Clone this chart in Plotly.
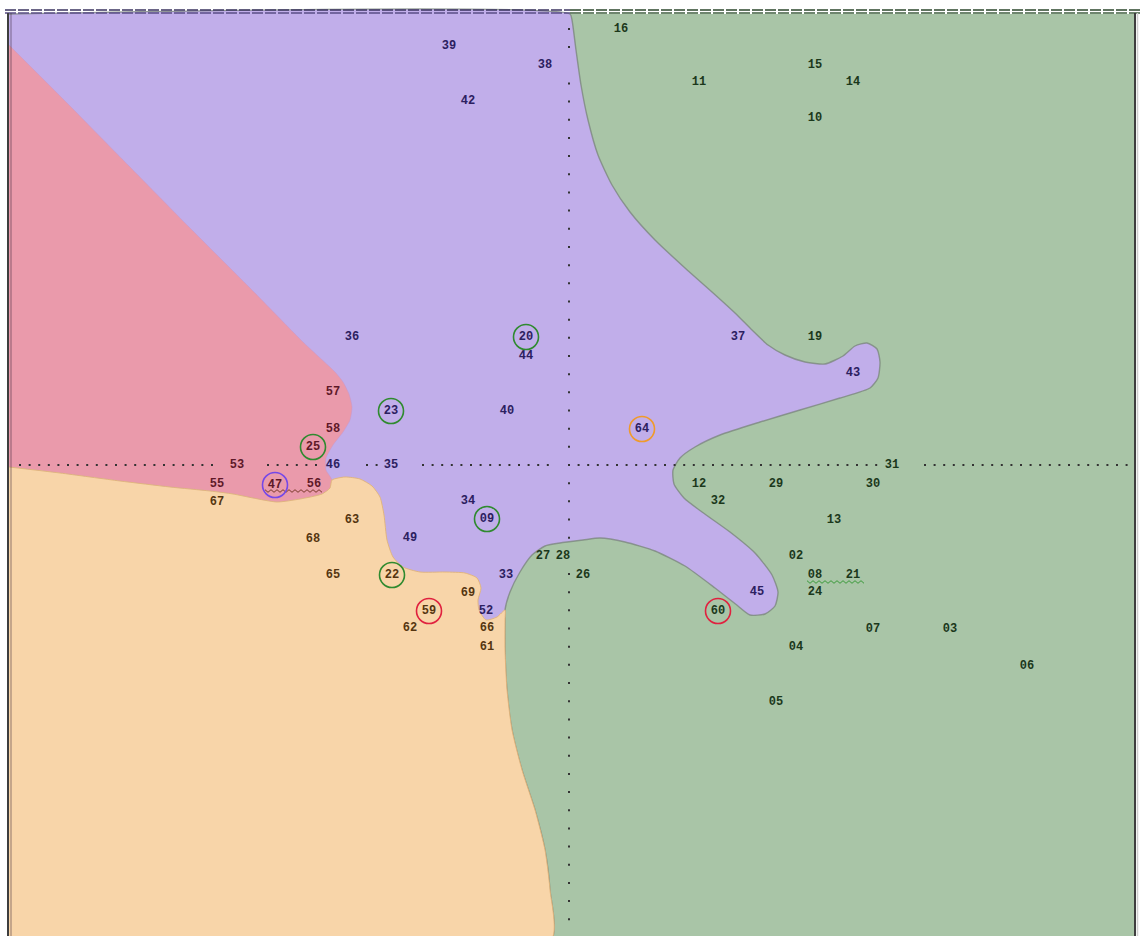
import numpy as np
import plotly.graph_objects as go

# ---------------- data (units: X = column offset from the vertical axis, Y = row offset from the horizontal axis)
purple_ids = ["39", "38", "42", "36", "20", "44", "40", "23", "46", "35", "34", "09", "49", "33", "52", "37", "43", "64", "45"]
purple_x = [-120, -24, -101, -217, -43, -43, -62, -178, -236, -178, -101, -82, -159, -63, -83, 169, 284, 73, 188]
purple_y = [419, 400, 364, 128, 128, 109, 54, 54, 0, 0, -36, -54, -73, -110, -146, 128, 92, 36, -127]

green_ids = ["16", "11", "15", "14", "10", "19", "31", "12", "29", "30", "32", "13", "02", "08", "21", "24", "60",
             "07", "03", "04", "06", "05", "27", "28", "26"]
green_x = [52, 130, 246, 284, 246, 246, 323, 130, 207, 304, 149, 265, 227, 246, 284, 246, 149,
           304, 381, 227, 458, 207, -26, -6, 14]
green_y = [436, 383, 400, 383, 347, 128, 0, -19, -19, -19, -36, -55, -91, -110, -110, -127, -146,
           -164, -164, -182, -201, -237, -91, -91, -110]

red_ids = ["57", "58", "25", "53", "55", "47", "56"]
red_x = [-236, -236, -256, -332, -352, -294, -255]
red_y = [73, 36, 18, 0, -19, -20, -19]

orange_ids = ["67", "63", "68", "65", "22", "69", "59", "62", "66", "61"]
orange_x = [-352, -217, -256, -236, -177, -101, -140, -159, -82, -82]
orange_y = [-37, -55, -74, -110, -110, -128, -146, -163, -163, -182]

# misclassified points (ring colour = true class)
ring_ids = ["20", "23", "25", "47", "09", "22", "59", "60", "64"]
ring_class = ["green", "green", "green", "purple", "green", "green", "red", "red", "orange"]

# region boundaries
green_region_x = [-560, 566, 566, -560]
green_region_y = [451, 451, -475, -475]

purple_region_x = [-560, 1, 3, 7, 12, 19, 29, 43, 61, 86, 116, 143, 166, 183, 199, 216, 236, 256, 274, 286, 298,
                   308, 311, 309, 301, 271, 231, 191, 151, 126, 111, 104, 105, 115, 133, 161, 186, 203, 209, 206,
                   196, 181, 169, 146, 116, 86, 56, 31, 14, -9, -24, -37, -49, -59, -64,
                   -64, -64, -62, -57, -47, -34, -24, -19, -18, -560]
purple_region_y = [451, 451, 445, 415, 380, 345, 310, 280, 253, 225, 197, 173, 152, 135, 120, 110, 103, 101, 109,
                   119, 122, 116, 103, 87, 77, 67, 55, 43, 30, 18, 7, -5, -19, -33, -47, -67, -88, -110, -127,
                   -141, -149, -150, -141, -123, -101, -86, -77, -73, -75, -78, -81, -90, -107, -127, -145,
                   -155, -185, -225, -265, -305, -345, -385, -425, -475, -475]

red_region_x = [-560, -500, -440, -380, -320, -265, -234, -226, -220, -217, -219, -226, -236, -243, -243, -237,
                -239, -247, -269, -292, -316, -336, -359, -399, -449, -509, -560]
red_region_y = [420, 360, 299, 238, 178, 122, 93, 83, 71, 58, 45, 33, 20, 7, -5, -15,
                -23, -29, -34, -37, -33, -29, -26, -22, -16, -8, -2]

orange_region_x = [-560, -509, -449, -399, -359, -336, -316, -292, -269, -247, -239, -237, -224, -209, -197,
                   -189, -185, -182, -176, -166, -149, -124, -104, -92, -88, -91, -90, -83, -72, -64,
                   -64, -64, -62, -57, -47, -34, -24, -19, -18, -560]
orange_region_y = [-2, -8, -16, -22, -26, -29, -33, -37, -34, -29, -23, -15, -12, -14, -21,
                   -32, -50, -75, -92, -102, -107, -107, -108, -113, -123, -135, -145, -155, -152, -145,
                   -155, -185, -225, -265, -305, -345, -385, -425, -475, -475]

# dotted axis segments (horizontal axis is broken where labels sit)
haxis_seg_start = [-549, -301, -202, -146, 0, 356]
haxis_seg_end = [-349, -251, -192, -19, 311, 563]
vaxis_skip_rows = [22, -5]

# wavy underlines (ties): start X, end X, Y, class
tie_x0 = [-304, 238]
tie_x1 = [-246, 296]
tie_y = [-26, -117]
tie_class = ["red", "green"]

# ---------------- styles
fill = {"green": "#A9C5A7", "purple": "#C1AEEA", "red": "#EA9AAB", "orange": "#F8D5A9"}
ink = {"green": "#1B381B", "purple": "#2C2060", "red": "#5E1828", "orange": "#553510"}
ring = {"green": "#2F8A2F", "purple": "#7548E8", "red": "#E0213F", "orange": "#F09A2A"}
tie_col = {"red": "#7A3A2A", "green": "#3A9A3A"}

fig = go.Figure()


def poly(xs, ys, color, line_color, lw, shape="spline"):
    line = dict(color=line_color, width=lw, shape=shape)
    if shape == "spline":
        line["smoothing"] = 0.6
    fig.add_trace(go.Scatter(x=xs, y=ys, fill="toself", fillcolor=color, mode="lines",
                             line=line, hoverinfo="skip"))


poly(green_region_x, green_region_y, fill["green"], fill["green"], 0, "linear")
poly(purple_region_x, purple_region_y, fill["purple"], "rgba(120,132,122,0.75)", 1.4)
poly(red_region_x, red_region_y, fill["red"], "rgba(200,150,200,0.6)", 0.8)
poly(orange_region_x, orange_region_y, fill["orange"], "rgba(225,180,120,0.9)", 1.0)

# dotted axes
hx = np.concatenate([np.arange(s, e + 0.5, 9.6) for s, e in zip(haxis_seg_start, haxis_seg_end)])
fig.add_trace(go.Scatter(x=hx, y=np.zeros_like(hx), mode="markers",
                         marker=dict(symbol="square", size=2, color="#333333"), hoverinfo="skip"))
rows = [k for k in range(-25, 25) if k not in vaxis_skip_rows]
vy = np.array(rows) * 18.17
fig.add_trace(go.Scatter(x=np.zeros_like(vy), y=vy, mode="markers",
                         marker=dict(symbol="square", size=2, color="#333333"), hoverinfo="skip"))

# frame: dashed double line on top, double lines at the sides
for yy, col_l, col_r in [(455, "#3B3460", "#2D472D"), (452, "#5A4E86", "#3F5E3F")]:
    fig.add_trace(go.Scatter(x=[-564, 1], y=[yy, yy], mode="lines",
                             line=dict(color=col_l, width=1.6, dash="11px,2px"), hoverinfo="skip"))
    fig.add_trace(go.Scatter(x=[1, 571], y=[yy, yy], mode="lines",
                             line=dict(color=col_r, width=1.6, dash="11px,2px"), hoverinfo="skip"))
fig.add_trace(go.Scatter(x=[-561, -561], y=[452, -475], mode="lines",
                         line=dict(color="#3E3E3E", width=2), hoverinfo="skip"))
fig.add_trace(go.Scatter(x=[-558, -558], y=[452, -475], mode="lines",
                         line=dict(color="rgba(60,40,60,0.55)", width=1), hoverinfo="skip"))
fig.add_trace(go.Scatter(x=[566, 566], y=[452, -475], mode="lines",
                         line=dict(color="#3E3E3E", width=2), hoverinfo="skip"))
fig.add_trace(go.Scatter(x=[568.5, 568.5], y=[452, -475], mode="lines",
                         line=dict(color="#CFCFCF", width=1.5), hoverinfo="skip"))

# wavy tie underlines
for x0, x1, y0, c in zip(tie_x0, tie_x1, tie_y, tie_class):
    zx = np.arange(x0, x1 + 0.1, 3.0)
    zy = y0 + np.where(np.arange(len(zx)) % 2 == 0, 1.3, -1.3)
    fig.add_trace(go.Scatter(x=zx, y=zy, mode="lines", line=dict(color=tie_col[c], width=1),
                             hoverinfo="skip"))

# labels
groups = [("purple", purple_ids, purple_x, purple_y), ("green", green_ids, green_x, green_y),
          ("red", red_ids, red_x, red_y), ("orange", orange_ids, orange_x, orange_y)]
pos = {}
for cls, ids, xs, ys in groups:
    for i, x, y in zip(ids, xs, ys):
        pos[i] = (x, y)
    fig.add_trace(go.Scatter(x=xs, y=ys, mode="text", text=["<b>" + i + "</b>" for i in ids],
                             textposition="middle center",
                             textfont=dict(family="Liberation Mono", size=12, color=ink[cls]),
                             hoverinfo="skip"))

# rings around misclassified points
for cls in ["green", "purple", "red", "orange"]:
    sel = [i for i, c in zip(ring_ids, ring_class) if c == cls]
    fig.add_trace(go.Scatter(x=[pos[i][0] for i in sel], y=[pos[i][1] for i in sel], mode="markers",
                             marker=dict(symbol="circle-open", size=25, color=ring[cls],
                                         line=dict(width=1.6, color=ring[cls])),
                             hoverinfo="skip"))

fig.update_layout(width=1140, height=936, margin=dict(l=0, r=0, t=0, b=0),
                  paper_bgcolor="white", plot_bgcolor="white", showlegend=False,
                  xaxis=dict(range=[-569, 571], visible=False, fixedrange=True),
                  yaxis=dict(range=[-471, 465], visible=False, fixedrange=True))
fig.write_html("out.html", config={"displayModeBar": False},
               post_script="document.body.style.margin='0px';document.body.style.overflow='hidden';")
